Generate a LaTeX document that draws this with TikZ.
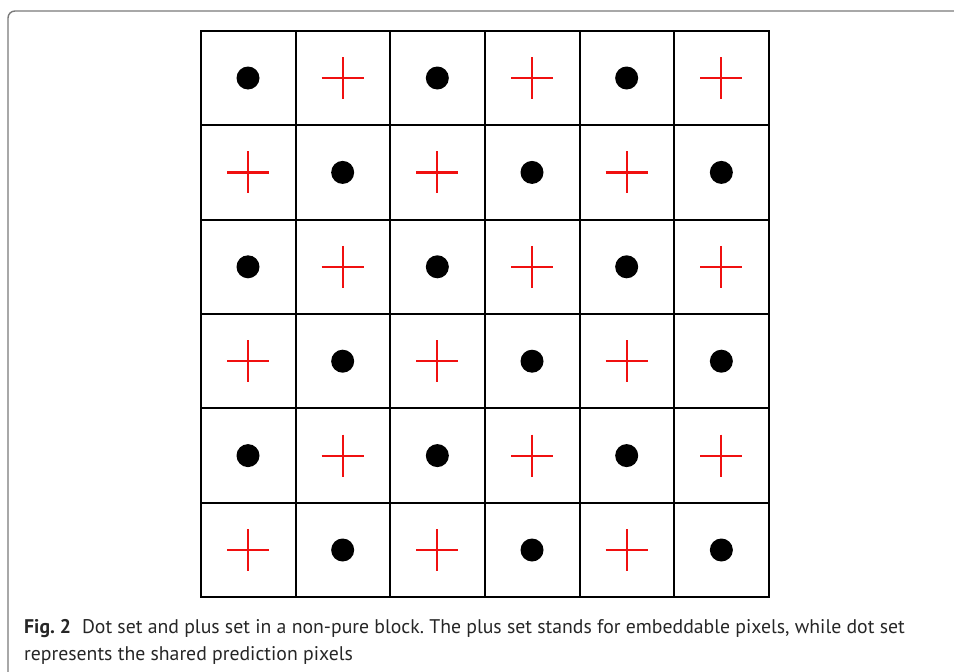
\documentclass[tikz,border=0pt]{standalone}
\usepackage{fontspec}
\setmainfont{PT Sans}
\frenchspacing
\definecolor{framegray}{HTML}{7A7A7A}
\definecolor{captiontext}{HTML}{262626}
\definecolor{plusred}{HTML}{F01010}
\tikzset{
  frameline/.style={draw=framegray, line width=1.4pt, rounded corners=7pt},
  gridline/.style={line width=1.8pt},
  outerline/.style={line width=2.8pt},
  plusmark/.style={plusred, line width=2.2pt},
}
\begin{document}
\begin{tikzpicture}[x=1pt, y=-1pt]
  \useasboundingbox (0,0) rectangle (954,672);
  % frame of the figure box
  \draw[frameline] (8,673) -- (8,11) -- (955,11);
  % grid of the block
  \foreach \i in {1,...,5} {
    \draw[gridline] (201+94.67*\i, 31) -- (201+94.67*\i, 597);
    \draw[gridline] (201, 31+94.33*\i) -- (769, 31+94.33*\i);
  }
  \draw[outerline] (201,31) rectangle (769,597);
  % dot set and plus set
  \foreach \c in {0,...,5} {
    \foreach \r in {0,...,5} {
      \pgfmathsetmacro\cx{248+94.67*\c}
      \pgfmathsetmacro\cy{78+94.4*\r}
      \pgfmathtruncatemacro\odd{mod(\c+\r,2)}
      \ifnum\odd=0
        \fill (\cx,\cy) circle (11.5);
      \else
        \draw[plusmark] (\cx-21,\cy) -- (\cx+21,\cy) (\cx,\cy-21) -- (\cx,\cy+21);
      \fi
    }
  }
  % caption (base anchor sits on the last line)
  \node[anchor=base west, align=left, inner sep=0pt, text=captiontext,
        font=\fontsize{19.75}{27}\selectfont] (caption) at (24,660)
    {\textbf{Fig. 2}\hspace{0.55em}Dot set and plus set in a non-pure block. The plus set stands for embeddable pixels, while dot set\\
     represents the shared prediction pixels};
\end{tikzpicture}
\end{document}
